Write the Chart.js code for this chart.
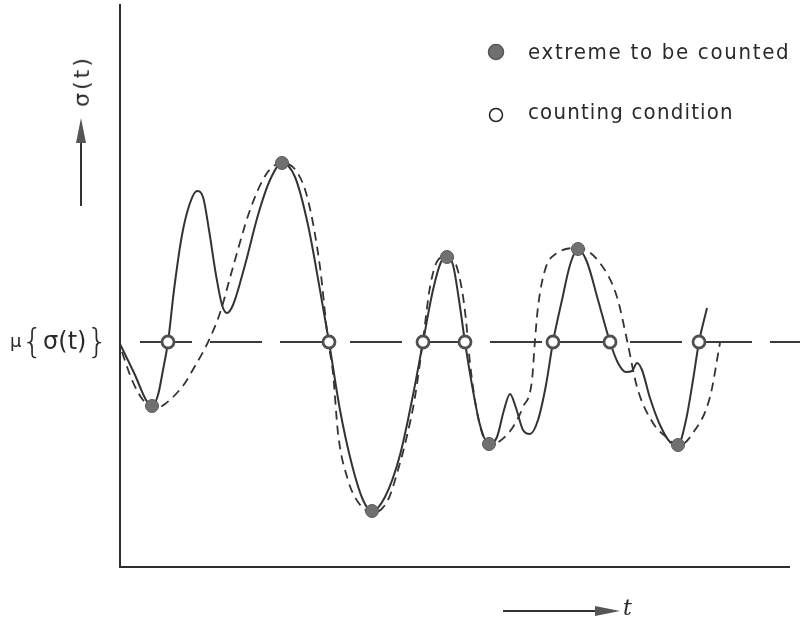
<!DOCTYPE html>
<html>
<head>
<meta charset="utf-8">
<script src="https://cdn.jsdelivr.net/npm/chart.js@4/dist/chart.umd.min.js"></script>
<style>
    body { margin: 0; background: #fff; }
    #wrap { position: relative; width: 800px; height: 623px; }
    #chart { position: absolute; left: 0; top: 0; }
    .label { position: absolute; color: #2a2a2a; white-space: nowrap; line-height: 1; }
    .legend-text { font-family: "DejaVu Sans Condensed", "DejaVu Sans", sans-serif; font-size: 22px; }
    #sigma-label { left: 56px; top: 70px; font-family: "DejaVu Sans", sans-serif; font-size: 22px; letter-spacing: 3px; transform: rotate(-90deg); }
    #mean-label { left: 10px; top: 321px; height: 40px; display: flex; align-items: center; font-family: "DejaVu Sans", sans-serif; font-size: 24px; }
    #mean-label .brace { font-size: 34px; font-weight: 300; }
    #t-label { left: 623px; top: 597px; font-family: "DejaVu Serif", serif; font-style: italic; font-size: 22px; }
</style>
</head>
<body>
<div id="wrap">
    <canvas id="chart" width="800" height="623"></canvas>
    <div class="label legend-text" style="left:528px; top:41px; letter-spacing:1.7px;">extreme to be counted</div>
    <div class="label legend-text" style="left:528px; top:101px; letter-spacing:1.2px;">counting condition</div>
    <div class="label" id="sigma-label">σ(t)</div>
    <div class="label" id="mean-label"><span style="font-size:18px">μ</span><span class="brace">{</span><span>σ(t)</span><span class="brace">}</span></div>
    <div class="label" id="t-label">t</div>
</div>
<script>
const signalTime = [0, 1.5, 2.6, 3.2, 3.8, 4.3, 4.8, 5.4, 6.2, 7.0, 7.7, 8.3, 8.9, 9.6, 10.2, 10.7, 11.3, 12.5, 13.8, 15.0,
    16.2, 17.5, 18.8, 20.0, 20.9, 22.0, 23.2, 24.3, 25.2, 26.5, 28.0, 29.3, 30.3, 31.3, 32.1, 32.7, 33.3, 33.9, 34.5, 35.2,
    36.0, 36.9, 37.7, 38.4, 39.0, 39.6, 40.3, 41.0, 41.8, 42.6, 43.3, 44.2, 45.0, 45.8, 46.7, 47.8, 49.0, 49.8, 50.6, 51.2,
    51.7, 52.2, 53.0, 54.0, 55.0, 55.8, 56.6, 57.3, 57.9, 58.7];
const signalValue = [-0.2, -3.3, -5.8, -6.4, -5.3, -2.8, 0, 5.2, 10.7, 13.9, 15.1, 14.5, 11.2, 6.7, 3.7, 2.9, 3.7, 7.7, 12.7, 16.2,
    17.9, 16.5, 11.7, 5.2, 0, -6.8, -12.3, -15.8, -16.9, -15.5, -11.3, -5.3, 0, 5.2, 8.0, 8.5, 7.7, 4.2, 0, -4.3,
    -8.3, -10.2, -9.5, -6.8, -5.2, -6.6, -8.8, -9.2, -7.8, -4.3, 0, 4.2, 7.7, 9.3, 8.0, 4.2, 0, -2.1, -3.0, -2.9,
    -2.1, -2.8, -5.6, -8.3, -10.0, -10.3, -7.8, -3.8, 0, 3.4];

// smoothed curve through the counted extremes (dashed)
const smoothTime = [0.2, 1.2, 2.3, 3.5, 4.5, 5.5, 6.5, 7.5, 8.3, 9.0, 10.0, 11.3, 13.0, 14.7, 16.2, 17.7, 18.8, 20.0, 20.8, 21.3,
    21.8, 22.8, 23.8, 25.3, 26.8, 27.8, 28.6, 29.5, 30.3, 31.0, 31.8, 32.7, 33.5, 34.2, 34.6, 35.0, 35.8, 36.9, 38.0, 39.3,
    40.3, 41.2, 41.5, 41.8, 42.5, 43.7, 45.8, 48.0, 49.7, 50.7, 51.7, 53.3, 55.0, 55.8, 57.3, 59.0, 60.0];
const smoothValue = [-1.0, -3.8, -5.8, -6.7, -6.2, -5.3, -4.1, -2.4, -1.0, 0.4, 2.9, 7.5, 13.2, 16.9, 17.9, 17.0, 14.2, 7.5, 0.2, -3.1,
    -9.1, -13.8, -16.0, -17.1, -15.8, -12.8, -9.8, -5.5, 0.2, 5.5, 8.2, 8.6, 8.0, 5.2, 2.2, -2.1, -7.5, -10.3, -9.9, -8.5,
    -6.5, -3.8, 0.2, 3.5, 7.2, 8.9, 9.4, 7.9, 4.5, 0.2, -4.5, -8.1, -9.8, -10.4, -9.1, -5.5, -0.1];

// extremes to be counted (filled) and mean crossings (open)
const extremeTime = [3.2, 16.2, 25.2, 32.7, 36.9, 45.8, 55.8];
const extremeValue = [-6.4, 17.9, -16.9, 8.5, -10.2, 9.3, -10.3];
const crossingTime = [4.8, 20.9, 30.3, 34.5, 43.3, 49.0, 57.9];
const meanValue = 0;
const meanStart = 2;
const meanEnd = 68;

const toPoints = (xs, ys) => xs.map((x, i) => ({ x: x, y: ys[i] }));

const inkColor = "#333";
const markerFill = "#707070";

const drawingPlugin = {
    id: "drawing",
    beforeDatasetsDraw(chart) {
        const ctx = chart.ctx;
        const area = chart.chartArea;
        ctx.save();
        ctx.strokeStyle = "#2e2e2e";
        ctx.lineWidth = 2;
        ctx.beginPath();
        ctx.moveTo(area.left, area.top);
        ctx.lineTo(area.left, area.bottom);
        ctx.lineTo(area.right - 10, area.bottom);
        ctx.stroke();
        ctx.restore();
    },
    afterDraw(chart) {
        const ctx = chart.ctx;
        ctx.save();
        ctx.strokeStyle = "#333";
        ctx.fillStyle = "#555";
        ctx.lineWidth = 2;

        // y arrow
        ctx.beginPath();
        ctx.moveTo(81, 206);
        ctx.lineTo(81, 138);
        ctx.stroke();
        ctx.beginPath();
        ctx.moveTo(81, 118);
        ctx.lineTo(76, 143);
        ctx.lineTo(86, 143);
        ctx.closePath();
        ctx.fill();

        // t arrow
        ctx.beginPath();
        ctx.moveTo(503, 611);
        ctx.lineTo(600, 611);
        ctx.stroke();
        ctx.beginPath();
        ctx.moveTo(620, 611);
        ctx.lineTo(595, 606);
        ctx.lineTo(595, 616);
        ctx.closePath();
        ctx.fill();

        // legend markers
        ctx.fillStyle = markerFill;
        ctx.strokeStyle = "#555";
        ctx.lineWidth = 1.5;
        ctx.beginPath();
        ctx.arc(496, 52, 7.5, 0, Math.PI * 2);
        ctx.fill();
        ctx.stroke();
        ctx.strokeStyle = "#222";
        ctx.beginPath();
        ctx.arc(496, 115, 6.5, 0, Math.PI * 2);
        ctx.stroke();
        ctx.restore();
    }
};

document.addEventListener("DOMContentLoaded", () => {
    const ctx = document.getElementById("chart").getContext("2d");

    new Chart(ctx, {
        type: "line",
        data: {
            datasets: [
                {
                    label: "counting condition",
                    data: crossingTime.map(t => ({ x: t, y: meanValue })),
                    showLine: false,
                    pointRadius: 6,
                    pointBorderWidth: 2.8,
                    pointBackgroundColor: "#fff",
                    pointBorderColor: "#505050",
                    order: 0
                },
                {
                    label: "extreme to be counted",
                    data: toPoints(extremeTime, extremeValue),
                    showLine: false,
                    pointRadius: 6.5,
                    pointBorderWidth: 1,
                    pointBackgroundColor: markerFill,
                    pointBorderColor: "#5a5a5a",
                    order: 1
                },
                {
                    label: "sigma(t)",
                    data: toPoints(signalTime, signalValue),
                    borderColor: inkColor,
                    borderWidth: 2,
                    pointRadius: 0,
                    cubicInterpolationMode: "monotone",
                    order: 2
                },
                {
                    label: "smoothed",
                    data: toPoints(smoothTime, smoothValue),
                    borderColor: inkColor,
                    borderWidth: 1.8,
                    borderDash: [9, 6],
                    pointRadius: 0,
                    cubicInterpolationMode: "monotone",
                    order: 3
                },
                {
                    label: "mean",
                    data: [{ x: meanStart, y: meanValue }, { x: meanEnd, y: meanValue }],
                    borderColor: "#3a3a3a",
                    borderWidth: 2,
                    borderDash: [52, 18],
                    pointRadius: 0,
                    order: 4
                }
            ]
        },
        options: {
            responsive: false,
            animation: false,
            layout: { autoPadding: false, padding: { left: 120, right: 0, top: 4, bottom: 56 } },
            scales: {
                x: { type: "linear", min: 0, max: 68, display: false },
                y: { type: "linear", min: -22.5, max: 33.8, display: false }
            },
            plugins: {
                legend: { display: false },
                tooltip: { enabled: false }
            }
        },
        plugins: [drawingPlugin]
    });
});
</script>
</body>
</html>
